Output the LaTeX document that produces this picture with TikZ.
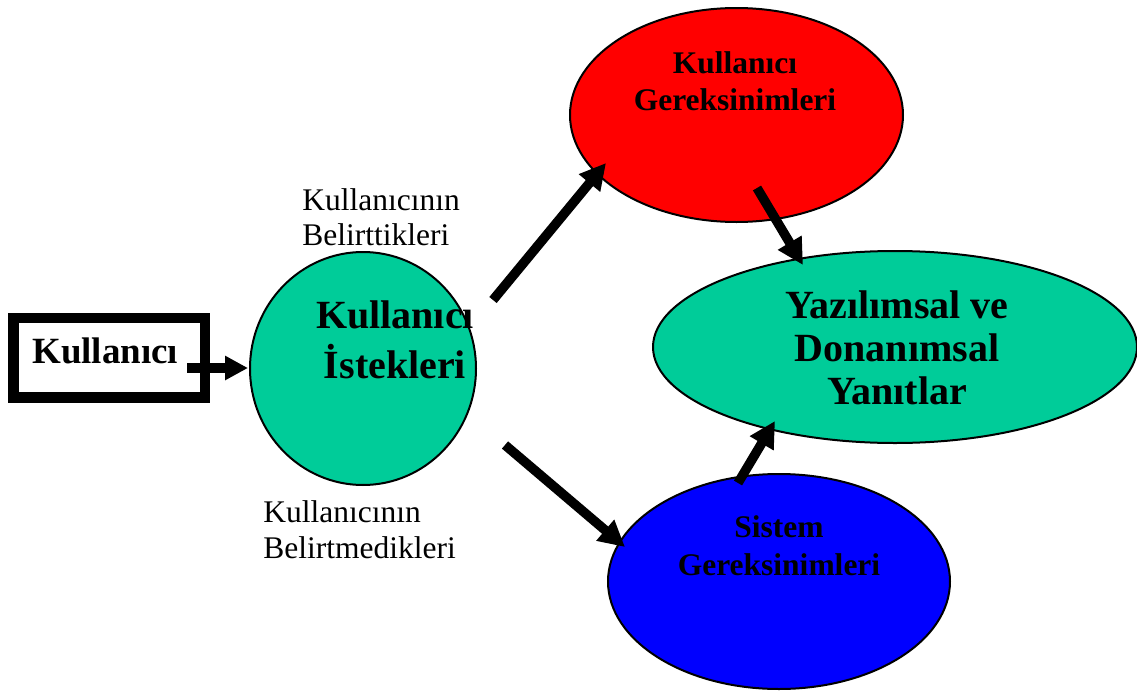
\documentclass[tikz,border=0pt]{standalone}
\usepackage{fontspec}
\setmainfont{Liberation Serif}
\usetikzlibrary{arrows.meta, calc, shapes.geometric}
\definecolor{reqgreen}{HTML}{00CC99}

\begin{document}
\begin{tikzpicture}[
  x=0.5pt, y=-0.5pt,
  blob/.style = {ellipse, draw, line width=1pt, inner sep=0pt},
  userbox/.style = {draw, line width=5.25pt, minimum width=95.75pt, minimum height=39.75pt,
                    inner sep=0pt, text depth=7.25pt, font=\bfseries\fontsize{18.5}{22}\selectfont},
  bigtext/.style = {inner sep=0pt, align=center, font=\bfseries\fontsize{20}{25}\selectfont},
  midtext/.style = {inner sep=0pt, align=center, font=\bfseries\fontsize{15.75}{18.5}\selectfont},
  note/.style = {inner sep=0pt, align=left, anchor=north west, font=\fontsize{15.75}{17.5}\selectfont},
  arrow/.style = {line width=4.75pt, -{Triangle[length=13pt, width=13pt]}}
]
\useasboundingbox (0,0) rectangle (1137,691);

% ======================================================
% User box
% ======================================================
\node[userbox] (user) at (109.25,357.75) {Kullanıcı\hspace*{4pt}};

% ======================================================
% Ellipses
% ======================================================
\node[blob, fill=reqgreen, minimum width=113pt, minimum height=116.5pt] (istek) at (363,368.5) {};
\node[bigtext] (istektext) at ($(istek)+(32,-29)$) {Kullanıcı\\İstekleri};

\node[blob, fill=red, minimum width=166.5pt, minimum height=107pt] (kgerek) at (736.5,115) {};
\node[midtext] (kgerektext) at ($(kgerek)+(-1.5,-34)$) {Kullanıcı\\Gereksinimleri};

\node[blob, fill=reqgreen, minimum width=242pt, minimum height=96pt] (yanit) at (895,347) {};
\node[bigtext, font=\bfseries\fontsize{20}{21.5}\selectfont] (yanittext) at ($(yanit)+(2,0.5)$)
  {Yazılımsal ve\\Donanımsal\\Yanıtlar};

\node[blob, fill=blue, minimum width=171pt, minimum height=107.5pt] (sgerek) at (779,581.5) {};
\node[midtext, font=\bfseries\fontsize{15.75}{19}\selectfont] (sgerektext) at ($(sgerek)+(0,-36)$)
  {Sistem\\Gereksinimleri};

% side notes
\node[note] (belirt) at (302,188.5) {Kullanıcının\\Belirttikleri};
\node[note, font=\fontsize{15.75}{18}\selectfont] (belirtme) at (263,500.5) {Kullanıcının\\Belirtmedikleri};

% ======================================================
% Arrows
% ======================================================
\draw[arrow, -{Triangle[length=11.5pt, width=11.5pt]}] ($(user)+(77.75,10.25)$) -- ($(istek)+(-115,-0.5)$);
\draw[arrow] ($(istek)+(130,-68.5)$) -- ($(kgerek)+(-130.5,48)$);
\draw[arrow] ($(istek)+(142,76.5)$) -- ($(sgerek)+(-154,-34.5)$);
\draw[arrow] ($(kgerek)+(20.5,73)$) -- ($(yanit)+(-92,-82)$);
\draw[arrow] ($(sgerek)+(-41,-98.5)$) -- ($(yanit)+(-120,74)$);
\end{tikzpicture}
\end{document}
